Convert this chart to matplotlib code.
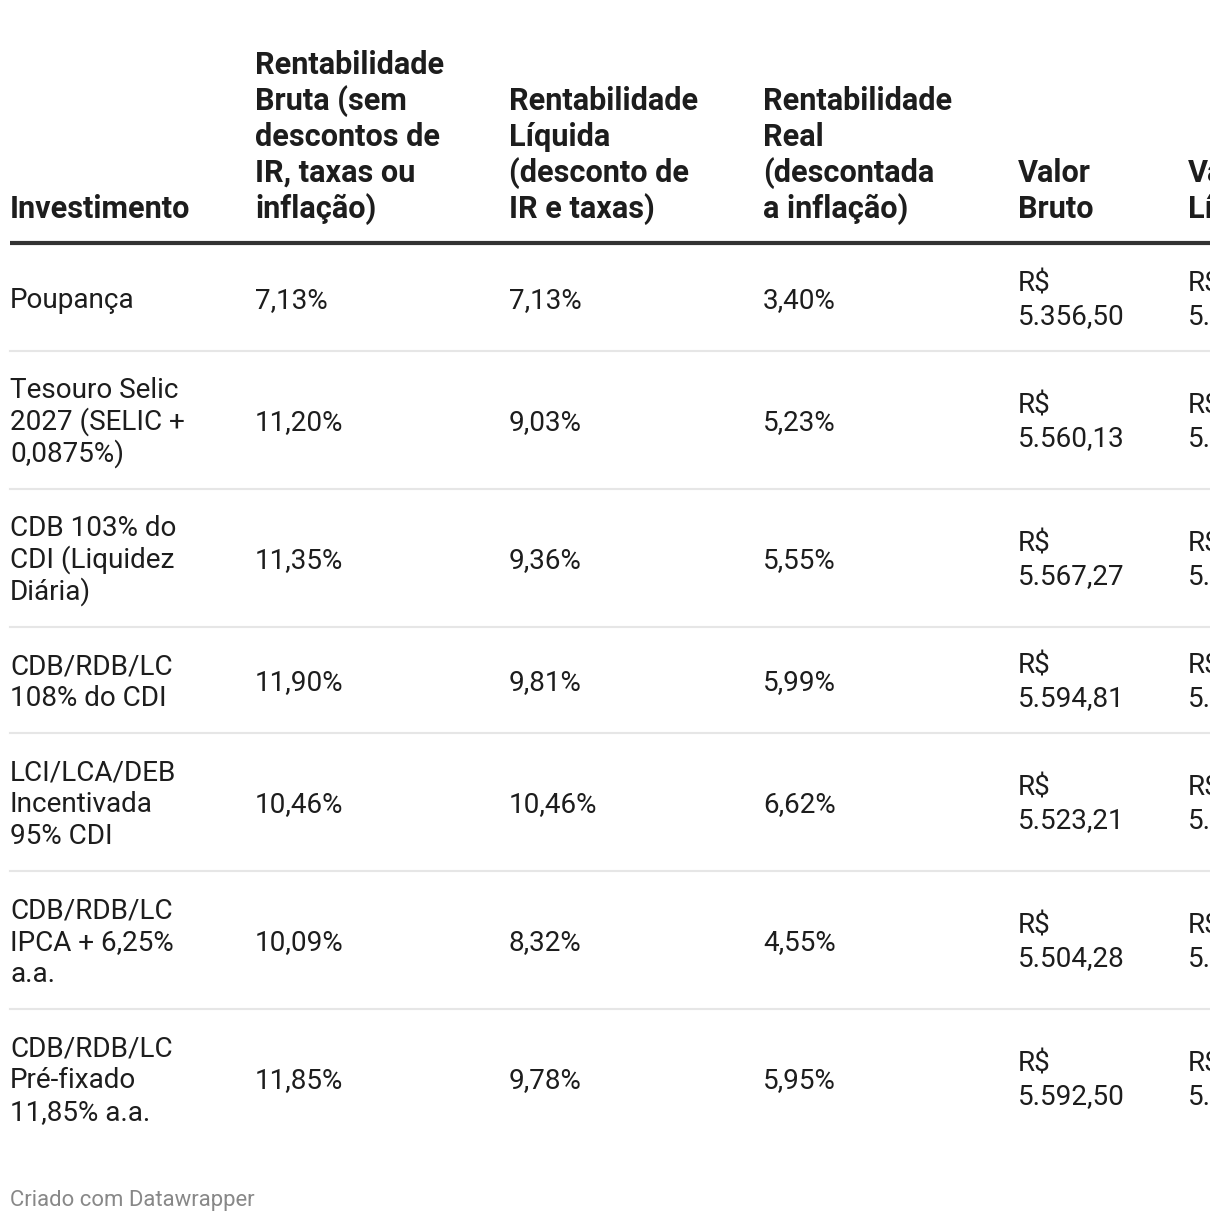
import matplotlib.pyplot as plt

plt.rcParams['font.family'] = ['Roboto', 'DejaVu Sans']

# dados da tabela
investimentos = [
    ["Poupança"],
    ["Tesouro Selic", "2027 (SELIC +", "0,0875%)"],
    ["CDB 103% do", "CDI (Liquidez", "Diária)"],
    ["CDB/RDB/LC", "108% do CDI"],
    ["LCI/LCA/DEB", "Incentivada", "95% CDI"],
    ["CDB/RDB/LC", "IPCA + 6,25%", "a.a."],
    ["CDB/RDB/LC", "Pré-fixado", "11,85% a.a."],
]
rent_bruta = ["7,13%", "11,20%", "11,35%", "11,90%", "10,46%", "10,09%", "11,85%"]
rent_liquida = ["7,13%", "9,03%", "9,36%", "9,81%", "10,46%", "8,32%", "9,78%"]
rent_real = ["3,40%", "5,23%", "5,55%", "5,99%", "6,62%", "4,55%", "5,95%"]
valor_bruto = ["5.356,50", "5.560,13", "5.567,27", "5.594,81", "5.523,21", "5.504,28", "5.592,50"]
# coluna cortada na imagem, so aparece "R$ 5."
valor_liquido = ["5.356,50", "5.451,50", "5.468,00", "5.490,50", "5.523,00", "5.416,00", "5.489,00"]

cabecalho = [
    ["Investimento"],
    ["Rentabilidade", "Bruta (sem", "descontos de", "IR, taxas ou", "inflação)"],
    ["Rentabilidade", "Líquida", "(desconto de", "IR e taxas)"],
    ["Rentabilidade", "Real", "(descontada", "a inflação)"],
    ["Valor", "Bruto"],
    ["Valor", "Líquido"],
]

W, H = 1220, 1222
VIS_W = 1210          # a tabela e cortada aqui na direita
COL_X = [10, 255, 509, 763, 1018, 1188]
LINE_H = 32
HEAD_LINE_H = 36
TXT = "#1d1d1d"
FS_BODY = 20.1
FS_HEAD = 22.1

fig = plt.figure(figsize=(W / 100, H / 100), dpi=100)
ax = fig.add_axes([0, 0, VIS_W / W, 1])
ax.set_xlim(0, VIS_W)
ax.set_ylim(H, 0)
ax.axis("off")

# cabecalho (alinhado embaixo)
head_base = 218
for x, linhas in zip(COL_X, cabecalho):
    n = len(linhas)
    for i, t in enumerate(linhas):
        y = head_base - (n - 1 - i) * HEAD_LINE_H
        ax.text(x, y, t, fontsize=FS_HEAD, fontweight="bold", color=TXT,
                ha="left", va="baseline", clip_on=True)

ax.plot([10, VIS_W], [243, 243], color="#333333", lw=3, solid_capstyle="butt")

y0 = 245
for r in range(len(investimentos)):
    cells = [
        investimentos[r],
        [rent_bruta[r]],
        [rent_liquida[r]],
        [rent_real[r]],
        ["R$", valor_bruto[r]],
        ["R$", valor_liquido[r]],
    ]
    nmax = max(len(c) for c in cells)
    h = nmax * LINE_H + 42
    yc = y0 + h / 2
    for x, linhas in zip(COL_X, cells):
        n = len(linhas)
        for i, t in enumerate(linhas):
            y = yc + (i - (n - 1) / 2) * LINE_H + 10
            ax.text(x, y, t, fontsize=FS_BODY, color=TXT, ha="left",
                    va="baseline", clip_on=True)
    y0 += h
    if r < len(investimentos) - 1:
        ax.plot([10, VIS_W], [y0, y0], color="#e6e6e6", lw=1.5)

ax.text(10, 1206, "Criado com Datawrapper", fontsize=15.9, color="#888888",
        ha="left", va="baseline")

fig.savefig("out.png", dpi=100)
